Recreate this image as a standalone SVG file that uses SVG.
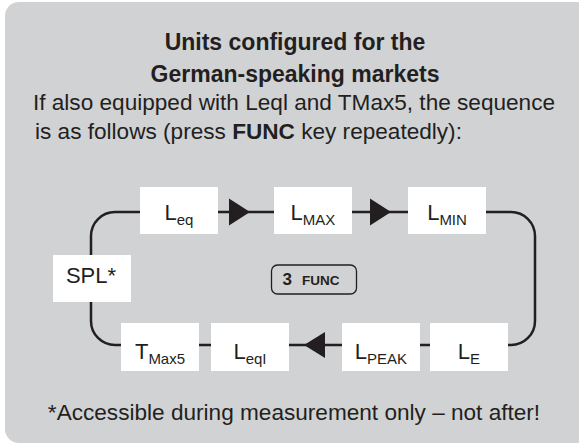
<svg xmlns="http://www.w3.org/2000/svg" width="579" height="445" viewBox="0 0 579 445">
<style>
.t{font-family:"Liberation Sans",Arial,sans-serif;fill:#231f20}
.h{font-size:23px;font-weight:bold;text-anchor:middle}
.b{font-size:22.6px}
.box{fill:#fff}
.lbl{font-family:"Liberation Sans",Arial,sans-serif;fill:#231f20;font-size:22px;text-anchor:middle}
.sub{font-size:15px}
.line{fill:none;stroke:#231f20;stroke-width:2.5}
.arr{fill:#231f20}
</style>
<rect x="5" y="2" width="586" height="441" rx="14" fill="#d1d2d4"/>
<text class="t h" x="295" y="50">Units configured for the</text>
<text class="t h" x="295" y="81.5">German-speaking markets</text>
<text class="t b" x="294" y="110" text-anchor="middle">If also equipped with Leql and TMax5, the sequence</text>
<text class="t b" x="35" y="138.5">is as follows (press <tspan font-weight="bold">FUNC</tspan> key repeatedly):</text>
<text class="t b" x="294" y="420" text-anchor="middle">*Accessible during measurement only – not after!</text>
<g id="connectors">
<rect class="line" x="91" y="212" width="444" height="133" rx="24"/>
<polygon class="arr" points="229,198.5 250,212 229,225.5"/>
<polygon class="arr" points="370,198.5 391,212 370,225.5"/>
<polygon class="arr" points="325,332 304,345 325,358"/>
</g>
<g id="func">
<rect x="271.5" y="265" width="85" height="29" rx="6" fill="#d1d2d4" stroke="#231f20" stroke-width="1.3"/>
<text class="t" x="282.5" y="284.5" font-size="17" font-weight="bold">3</text>
<text class="t" x="302" y="284.5" font-size="13.5" font-weight="bold">FUNC</text>
</g>
<g id="n-leq"><rect class="box" x="140" y="187" width="78" height="47"/><text class="lbl" x="179" y="219.5">L<tspan class="sub" dy="5">eq</tspan></text></g>
<g id="n-lmax"><rect class="box" x="274" y="187" width="78" height="47"/><text class="lbl" x="313" y="219.5">L<tspan class="sub" dy="5">MAX</tspan></text></g>
<g id="n-lmin"><rect class="box" x="408" y="187" width="78" height="47"/><text class="lbl" x="447" y="219.5">L<tspan class="sub" dy="5">MIN</tspan></text></g>
<g id="n-spl"><rect class="box" x="53" y="255" width="78" height="47"/><text class="lbl" x="91" y="283">SPL*</text></g>
<g id="n-tmax5"><rect class="box" x="121" y="323" width="78" height="48"/><text class="lbl" x="160" y="358.5">T<tspan class="sub" dy="5">Max5</tspan></text></g>
<g id="n-leqi"><rect class="box" x="211" y="323" width="78" height="48"/><text class="lbl" x="250" y="358.5">L<tspan class="sub" dy="5">eqI</tspan></text></g>
<g id="n-lpeak"><rect class="box" x="342" y="323" width="78" height="48"/><text class="lbl" x="381" y="358.5">L<tspan class="sub" dy="5">PEAK</tspan></text></g>
<g id="n-le"><rect class="box" x="430" y="323" width="78" height="48"/><text class="lbl" x="469" y="358.5">L<tspan class="sub" dy="5">E</tspan></text></g>
</svg>
